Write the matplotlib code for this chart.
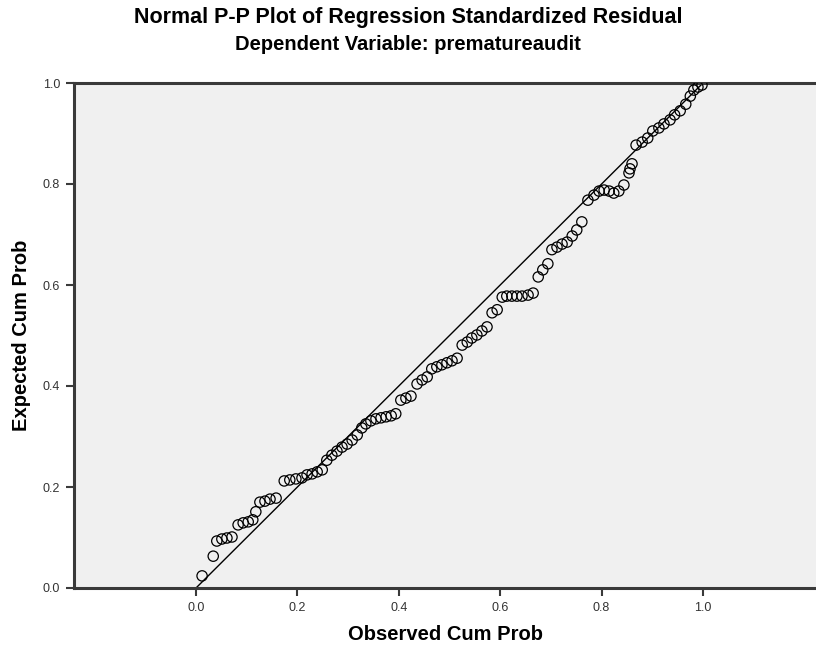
import matplotlib
matplotlib.use("Agg")
import matplotlib.pyplot as plt

# Observed cumulative probability (x) and expected cumulative probability (y)
observed = [0.012, 0.034, 0.041, 0.051, 0.061, 0.071, 0.083, 0.093, 0.103, 0.112,
            0.118, 0.126, 0.136, 0.146, 0.158, 0.174, 0.185, 0.197, 0.209, 0.219,
            0.229, 0.239, 0.249, 0.258, 0.268, 0.278, 0.288, 0.298, 0.308, 0.318,
            0.327, 0.335, 0.345, 0.355, 0.365, 0.375, 0.385, 0.394, 0.404, 0.414,
            0.424, 0.436, 0.446, 0.456, 0.465, 0.475, 0.485, 0.495, 0.505, 0.515,
            0.525, 0.535, 0.544, 0.554, 0.564, 0.574, 0.584, 0.594, 0.604, 0.613,
            0.623, 0.633, 0.643, 0.655, 0.665, 0.675, 0.684, 0.694, 0.702, 0.712,
            0.722, 0.732, 0.742, 0.751, 0.761, 0.773, 0.785, 0.795, 0.805, 0.815,
            0.824, 0.834, 0.844, 0.854, 0.860, 0.856, 0.868, 0.880, 0.891, 0.901,
            0.913, 0.923, 0.935, 0.944, 0.955, 0.966, 0.975, 0.982, 0.990, 0.998]
expected = [0.024, 0.063, 0.093, 0.097, 0.099, 0.101, 0.125, 0.129, 0.131, 0.135,
            0.151, 0.170, 0.172, 0.176, 0.178, 0.212, 0.214, 0.216, 0.218, 0.224,
            0.226, 0.230, 0.234, 0.253, 0.263, 0.271, 0.279, 0.285, 0.293, 0.303,
            0.317, 0.325, 0.331, 0.335, 0.337, 0.339, 0.341, 0.345, 0.372, 0.376,
            0.380, 0.404, 0.412, 0.418, 0.434, 0.438, 0.442, 0.446, 0.450, 0.455,
            0.481, 0.487, 0.495, 0.501, 0.509, 0.517, 0.545, 0.551, 0.576, 0.578,
            0.578, 0.578, 0.578, 0.580, 0.584, 0.616, 0.630, 0.642, 0.670, 0.675,
            0.681, 0.685, 0.697, 0.709, 0.725, 0.768, 0.778, 0.786, 0.788, 0.786,
            0.782, 0.786, 0.798, 0.822, 0.840, 0.830, 0.877, 0.883, 0.891, 0.905,
            0.911, 0.919, 0.927, 0.937, 0.945, 0.958, 0.974, 0.986, 0.992, 0.996]

ref_line = [0.0, 1.0]
xticks = [0.0, 0.2, 0.4, 0.6, 0.8, 1.0]
yticks = [0.0, 0.2, 0.4, 0.6, 0.8, 1.0]
ticklabels = ["0.0", "0.2", "0.4", "0.6", "0.8", "1.0"]

plt.rcParams['font.family'] = ['Liberation Sans', 'DejaVu Sans']

W, H = 816, 649
fig = plt.figure(figsize=(W / 100, H / 100), dpi=100)
left_px, right_px, top_px, bottom_px = 74, 818, 83, 588
ax = fig.add_axes([left_px / W, 1 - bottom_px / H,
                   (right_px - left_px) / W, (bottom_px - top_px) / H])
ax.set_facecolor("#F0F0F0")

# x scale: 0 at px 196, 1 at px 703
x0, x1 = 196.0, 703.0
ax.set_xlim((left_px - x0) / (x1 - x0), (right_px - x0) / (x1 - x0))
ax.set_ylim(0, 1)

ax.plot(ref_line, ref_line, color="black", lw=1.0, zorder=2)
ax.scatter(observed, expected, s=55, facecolors="none", edgecolors="black",
           linewidths=0.9, zorder=3)

for side in ["left", "top", "bottom"]:
    ax.spines[side].set_color("#3a3a3a")
    ax.spines[side].set_linewidth(2.2)
ax.spines["right"].set_visible(False)

ax.set_xticks(xticks)
ax.set_xticklabels(ticklabels)
ax.set_yticks(yticks)
ax.set_yticklabels(ticklabels)
ax.tick_params(axis="both", direction="out", length=6, width=1.5, color="#3a3a3a",
               labelsize=9, labelcolor="#333333", pad=4)

ax.set_xlabel("Observed Cum Prob", fontsize=14.5, fontweight="bold")
ax.xaxis.set_label_coords(0.5, -0.073)
ax.set_ylabel("Expected Cum Prob", fontsize=14.5, fontweight="bold")
ax.yaxis.set_label_coords(-0.058, 0.5)

fig.text(0.5, 1 - 17 / H, "Normal P-P Plot of Regression Standardized Residual",
         ha="center", va="center", fontsize=15.5, fontweight="bold")
fig.text(0.5, 1 - 45 / H, "Dependent Variable: prematureaudit",
         ha="center", va="center", fontsize=14.5, fontweight="bold")

fig.savefig("out.png", dpi=100)
